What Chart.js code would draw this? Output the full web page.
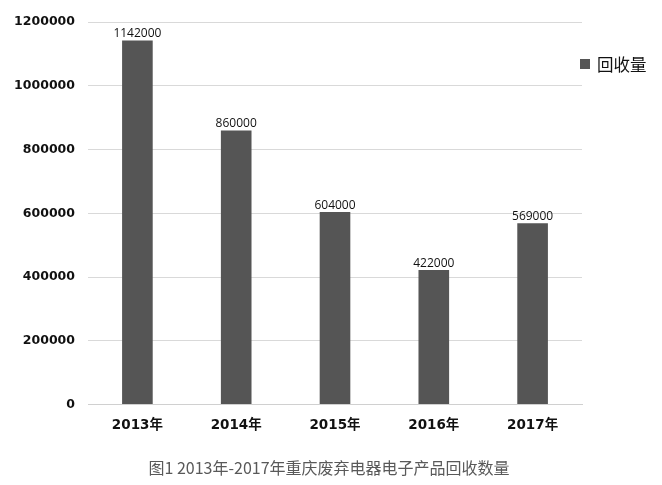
<!DOCTYPE html>
<html><head><meta charset="utf-8">
<script src="https://cdn.jsdelivr.net/npm/chart.js@4"></script>
<style>html,body{margin:0;padding:0;background:#fff;}canvas{display:block;}</style>
</head><body>
<canvas id="c" width="662" height="485"></canvas>
<script>
const categories = ['2013年','2014年','2015年','2016年','2017年'];
const seriesName = '回收量';
const values = [1142000, 860000, 604000, 422000, 569000];
const yTicks = [0, 200000, 400000, 600000, 800000, 1000000, 1200000];
const caption = '图1 2013年-2017年重庆废弃电器电子产品回收数量';

const BAR = '#555555';
const extras = {
  id: 'extras',
  afterDatasetsDraw(chart) {
    const ctx = chart.ctx;
    const meta = chart.getDatasetMeta(0);
    ctx.save();
    ctx.fillStyle = '#111';
    ctx.font = '12px "Open Sans", sans-serif';
    ctx.textAlign = 'center';
    ctx.textBaseline = 'alphabetic';
    meta.data.forEach((bar, i) => {
      ctx.fillText(String(chart.data.datasets[0].data[i]), bar.x, bar.y - 3);
    });
    // legend
    const ca = chart.chartArea;
    ctx.fillStyle = BAR;
    ctx.fillRect(ca.right - 2, 59, 10, 10);
    ctx.fillStyle = '#111';
    ctx.font = '16.5px "Noto Sans CJK SC", sans-serif';
    ctx.textAlign = 'left';
    ctx.textBaseline = 'middle';
    ctx.fillText(chart.data.datasets[0].label, ca.right + 15, 65);
    // caption
    ctx.fillStyle = '#595959';
    ctx.font = '16px "Noto Sans CJK SC", sans-serif';
    ctx.textAlign = 'center';
    ctx.fillText(caption, 329, 468);
    ctx.restore();
  }
};

new Chart(document.getElementById('c'), {
  type: 'bar',
  data: {
    labels: categories,
    datasets: [{ label: seriesName, data: values, backgroundColor: BAR, barPercentage: 0.31, categoryPercentage: 1 }]
  },
  options: {
    responsive: false,
    animation: false,
    layout: { padding: { top: 22, right: 80, left: 0, bottom: 0 } },
    plugins: { legend: { display: false }, tooltip: { enabled: false } },
    scales: {
      x: {
        grid: { display: false, drawTicks: false },
        border: { display: true, color: '#d0d0d0', width: 1 },
        ticks: { padding: 13, color: '#111', font: { family: '"DejaVu Sans", "Noto Sans CJK SC", sans-serif', size: 13.5, weight: 'bold' } },
        afterFit(s) { s.height = 80.5; }
      },
      y: {
        min: 0, max: 1200000,
        afterBuildTicks(s) { s.ticks = yTicks.map(v => ({ value: v })); },
        grid: { color: '#d9d9d9', drawTicks: false },
        border: { display: false },
        ticks: { padding: 13, color: '#111', font: { family: '"DejaVu Sans", sans-serif', size: 12.5, weight: 'bold' }, callback: v => String(v) },
        afterFit(s) { s.width = 88; }
      }
    }
  },
  plugins: [extras]
});
</script>
</body></html>
